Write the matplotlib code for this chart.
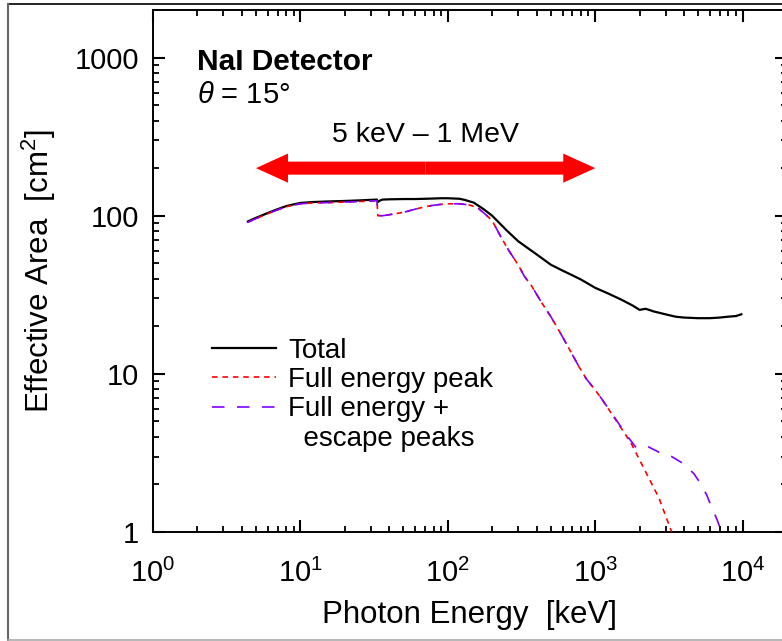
import matplotlib
matplotlib.use("Agg")
import matplotlib.pyplot as plt
from matplotlib.lines import Line2D
from matplotlib.ticker import FixedLocator, NullFormatter

plt.rcParams['font.family'] = ['Liberation Sans', 'DejaVu Sans']
plt.rcParams['mathtext.fontset'] = 'custom'
plt.rcParams['mathtext.rm'] = 'Liberation Sans'
plt.rcParams['mathtext.it'] = 'Liberation Sans:italic'
plt.rcParams['mathtext.bf'] = 'Liberation Sans:bold'
plt.rcParams['lines.scale_dashes'] = False

# ---------------- data ----------------
total_E = [4.4, 5, 6, 7, 8, 9, 10, 12, 15, 20, 25, 30, 33.0, 33.5, 34.5, 36, 40, 50,
           60, 70, 80, 90, 100, 110, 120, 130, 150, 175, 200, 250, 300, 400, 500,
           600, 700, 800, 1000, 1200, 1500, 1800, 2000, 2200, 2500, 3000, 3500,
           4000, 5000, 6000, 7000, 8000, 9000, 9800]
total_A = [92, 97, 104, 110, 115, 118, 120.5, 122, 123, 124, 125, 126, 126.5, 122, 124.5,
           126.5, 127, 127.5, 127.5, 128, 128.5, 129, 129, 128.5, 128, 126, 121, 110,
           100, 81, 69, 57, 49, 45, 42, 39.5, 35, 32.5, 29.5, 27, 25.4, 25.8, 24.8,
           23.8, 23, 22.7, 22.5, 22.5, 22.7, 23, 23.2, 23.8]

fep_E = [4.4, 5, 6, 7, 8, 10, 12, 15, 20, 25, 30, 33.1, 33.5, 36, 40, 50, 60, 70,
         80, 90, 100, 120, 140, 160, 180, 200, 230, 260, 300, 330, 370, 430, 500,
         560, 650, 780, 870, 1000, 1100, 1400, 1750, 2150, 2700, 3300]
fep_A = [91, 96, 103, 109, 114, 119, 120.5, 121, 122, 123, 124, 124.5, 100, 100,
         101.5, 105, 110, 114, 116.5, 118, 119, 119, 117, 112, 102, 93, 73, 60, 49,
         41.5, 36, 28.5, 23, 19.2, 15, 11, 9.3, 7.9, 7.0, 5.0, 3.65, 2.5, 1.65, 1.0]

esc_E = [4.4, 5, 6, 7, 8, 10, 12, 15, 20, 25, 30, 33.1, 33.5, 36, 40, 50, 60, 70,
         80, 90, 100, 120, 140, 160, 180, 200, 230, 260, 300, 330, 370, 430, 500,
         560, 650, 780, 870, 1000, 1100, 1300, 1500, 1700, 1900, 2100, 2300, 2700,
         3300, 3850, 4650, 5100, 5700, 6150, 6700, 7200]
esc_A = [91, 96, 103, 109, 114, 119, 120.5, 121, 122, 123, 124, 124.5, 100, 100,
         101.5, 105, 110, 114, 116.5, 118, 119, 119, 117, 112, 102, 93, 73, 60, 49,
         41.5, 36, 28.5, 23, 19.2, 15, 11, 9.3, 7.9, 7.0, 5.6, 4.6, 3.9, 3.4, 3.4,
         3.45, 3.2, 3.0, 2.75, 2.35, 2.07, 1.72, 1.44, 1.2, 1.0]

x_ticks = [1, 10, 100, 1000, 10000]
x_ticklabels = ['$10^{0}$', '$10^{1}$', '$10^{2}$', '$10^{3}$', '$10^{4}$']
y_ticks = [1, 10, 100, 1000]
y_ticklabels = ['1', '10', '100', '1000']
minor_mult = [2, 3, 4, 5, 6, 7, 8, 9]

labels = ['Total', 'Full energy peak', 'Full energy +']
range_lo, range_hi = 5, 1000
arrow_level = 200

RED = '#ff0000'
PURPLE = '#7f00ff'

# ---------------- figure ----------------
W, H = 782, 641
fig = plt.figure(figsize=(W / 100, H / 100), dpi=100)
ax = fig.add_axes([153 / W, (H - 532) / H, (787 - 153) / W, (532 - 10) / H])
ax.set_xscale('log')
ax.set_yscale('log')
ax.set_xlim(1, 2e4)
ax.set_ylim(1, 2000)

ax.plot(total_E, total_A, color='black', lw=1.6, zorder=3)
ax.plot(fep_E, fep_A, color=RED, lw=1.2, dashes=(4, 3.5), zorder=4)
ax.plot(esc_E, esc_A, color=PURPLE, lw=1.2, dashes=(9, 9), zorder=5)

ax.xaxis.set_major_locator(FixedLocator(x_ticks))
ax.yaxis.set_major_locator(FixedLocator(y_ticks))
ax.set_xticklabels(x_ticklabels)
ax.set_yticklabels(y_ticklabels)
x_minor = [m * d for d in x_ticks for m in minor_mult]
y_minor = [m * d for d in y_ticks for m in minor_mult]
ax.xaxis.set_minor_locator(FixedLocator(x_minor))
ax.yaxis.set_minor_locator(FixedLocator(y_minor))
ax.xaxis.set_minor_formatter(NullFormatter())
ax.yaxis.set_minor_formatter(NullFormatter())
ax.tick_params(which='both', direction='in', top=True, right=True, color='black')
ax.tick_params(which='major', length=8.5, width=1.5, labelsize=21)
ax.tick_params(which='minor', length=4.5, width=1.3)
ax.tick_params(axis='x', which='major', pad=19)
ax.tick_params(axis='y', which='major', pad=10)
for s in ax.spines.values():
    s.set_linewidth(1.4)
    s.set_color('black')

ax.set_xlabel('Photon Energy  [keV]', fontsize=22.5, labelpad=9)
ax.set_ylabel('Effective Area  [cm$^2$]', fontsize=22.5, labelpad=12)

ax.text(0.069, 0.900, 'NaI Detector', transform=ax.transAxes, fontsize=21.5,
        fontweight='bold', va='center', ha='left')
ax.text(0.069, 0.837, r'$\theta$ = 15°', transform=ax.transAxes, fontsize=21,
        va='center', ha='left')

# double headed arrow: two simple arrows from the (log) middle
mid = (range_lo * range_hi) ** 0.5
for end in (range_lo, range_hi):
    ax.annotate('', xy=(end, arrow_level), xytext=(mid, arrow_level),
                arrowprops=dict(arrowstyle='simple,head_length=23,head_width=21,tail_width=9.4',
                                mutation_scale=1, color=RED, lw=0,
                                shrinkA=0, shrinkB=0))
ax.text(mid, 325, '5 keV – 1 MeV', fontsize=20.5, ha='center', va='center')

handles = [Line2D([], [], color='black', lw=1.6),
           Line2D([], [], color=RED, lw=1.2, dashes=(4, 3.5)),
           Line2D([], [], color=PURPLE, lw=1.2, dashes=(9, 9)),
           Line2D([], [], color='none')]
leg = ax.legend(handles, labels + ['  escape peaks'], loc='upper left',
                bbox_to_anchor=(0.093, 0.372), frameon=False, fontsize=20,
                handlelength=2.3, handletextpad=0.45, labelspacing=0.12,
                borderpad=0, borderaxespad=0)

# outer frame of the picture
fig.add_artist(Line2D([8 / W, 1], [1 - 4 / H, 1 - 4 / H], color='black', lw=1.2))
fig.add_artist(Line2D([8 / W, 8 / W], [1 - 4 / H, 1.5 / H], color='#666666', lw=1.5))
fig.add_artist(Line2D([8 / W, 1], [1.5 / H, 1.5 / H], color='#aaaaaa', lw=1.2))

fig.savefig('out.png', dpi=100)
